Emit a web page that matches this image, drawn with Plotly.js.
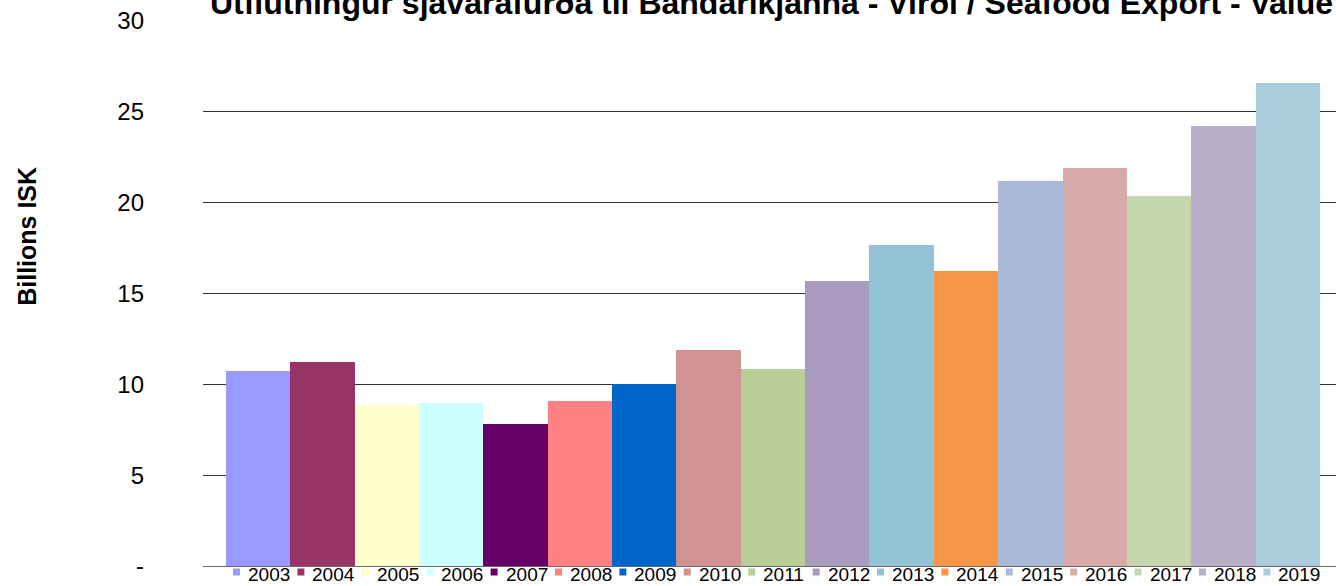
<!DOCTYPE html>
<html>
<head>
<meta charset="utf-8">
<script src="https://cdn.plot.ly/plotly-3.0.1.min.js"></script>
<style>html,body{margin:0;padding:0;background:#fff}#chart{width:1336px;height:586px}</style>
</head>
<body>
<div id="chart"></div>
<script>
const years = ['2003','2004','2005','2006','2007','2008','2009','2010','2011','2012','2013','2014','2015','2016','2017','2018','2019'];
const values = [10.74, 11.24, 8.87, 8.98, 7.83, 9.09, 10.03, 11.90, 10.85, 15.69, 17.66, 16.24, 21.18, 21.90, 20.36, 24.20, 26.57];
const colors = ['#9999FF','#993366','#FFFFCC','#CCFFFF','#660066','#FF8080','#0066CC','#D19292','#B9CD97','#A99BBE','#92C3D5','#F79646','#AAB9D7','#D9AAAA','#C6D6AD','#B9AFC9','#A9CDDC'];
const yTickVals = [0, 5, 10, 15, 20, 25, 30];
const yTickText = ['-', '5', '10', '15', '20', '25', '30'];
const titleText = 'Útflutningur sjávarafurða til Bandaríkjanna - Virði / Seafood Export - Value';
const yTitle = 'Billions ISK';

const W = 1336, H = 586;
const M = {l: 203, r: 0, t: 20.5, b: 19.5};
const PW = W - M.l - M.r, PH = H - M.t - M.b;
const px2x = px => (px - M.l) / PW;
const py2y = py => (H - M.b - py) / PH;
const FONT = 'Liberation Sans, Arial, sans-serif';

const traces = years.map((yr, i) => ({
  type: 'bar',
  name: yr,
  x: [yr],
  y: [values[i]],
  marker: {color: colors[i], line: {width: 0}},
  hoverinfo: 'name+y',
  showlegend: false
}));

// Custom legend (Excel-style, compact): square swatch + year label per series
const legStep = 64.4, legSq0 = 233, legTx0 = 247, sq = 7, sqTop = 569, legTextMid = 575.5;
const legendShapes = years.map((yr, i) => ({
  type: 'rect', xref: 'paper', yref: 'paper', layer: 'above',
  x0: px2x(legSq0 + i * legStep), x1: px2x(legSq0 + i * legStep + sq),
  y0: py2y(sqTop + sq), y1: py2y(sqTop),
  fillcolor: colors[i], line: {width: 0}
}));
const legendLabels = years.map((yr, i) => ({
  text: yr, xref: 'paper', yref: 'paper',
  x: px2x(legTx0 + i * legStep), y: py2y(legTextMid),
  xanchor: 'left', yanchor: 'middle', showarrow: false, borderpad: 0,
  font: {size: 19, family: FONT, color: '#000'}
}));

const layout = {
  width: W, height: H,
  paper_bgcolor: '#fff', plot_bgcolor: '#fff',
  font: {family: FONT, color: '#000'},
  margin: {l: M.l, r: M.r, t: M.t, b: M.b, autoexpand: false},
  barmode: 'overlay', bargap: 0,
  showlegend: false,
  title: {
    text: '<b>' + titleText + '</b>',
    font: {size: 32, family: FONT, color: '#000'},
    xref: 'container', x: 771.5 / W, xanchor: 'center',
    yref: 'container', y: 1 - 14/H, yanchor: 'bottom'
  },
  xaxis: {
    type: 'category', range: [-0.857, 16.75],
    showticklabels: false, showgrid: false, zeroline: false, showline: false, ticks: ''
  },
  yaxis: {
    range: [0, 30], tickvals: yTickVals, ticktext: yTickText,
    showgrid: true, gridcolor: '#333333', gridwidth: 1,
    zeroline: true, zerolinecolor: '#6a6a6a', zerolinewidth: 1,
    showline: false, ticks: '', ticklabelstandoff: 58,
    tickfont: {size: 24, family: FONT, color: '#000'}
  },
  shapes: legendShapes,
  annotations: [{
    text: '<b>' + yTitle + '</b>', textangle: -90,
    xref: 'paper', yref: 'paper', x: px2x(27), y: py2y(236.7),
    xanchor: 'center', yanchor: 'middle', showarrow: false,
    font: {size: 25, family: FONT, color: '#000'}
  }].concat(legendLabels)
};

Plotly.newPlot('chart', traces, layout, {displayModeBar: false});
</script>
</body>
</html>
